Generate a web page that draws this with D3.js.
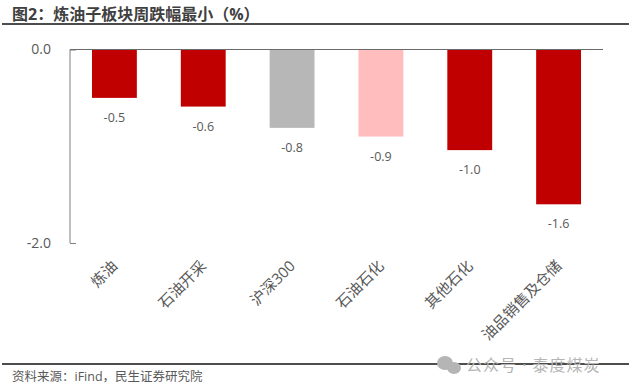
<!DOCTYPE html>
<html>
<head>
<meta charset="utf-8">
<script src="https://cdn.jsdelivr.net/npm/d3@7"></script>
<style>
  html, body { margin: 0; padding: 0; background: #fff; }
  text { font-family: "Open Sans", "Noto Sans CJK SC", sans-serif; }
</style>
</head>
<body>
<div id="chart"></div>
<script>
// Data
const categories = ["炼油", "石油开采", "沪深300", "石油石化", "其他石化", "油品销售及仓储"];
const values = [-0.5, -0.59, -0.81, -0.9, -1.04, -1.6];
const barColors = ["#c00000", "#c00000", "#b7b7b7", "#ffbdbd", "#c00000", "#c00000"];
const yTicks = [0, -2];

const width = 629;
const height = 390;
const margin = { top: 49.5, right: 26, bottom: 147, left: 70 };

// plain hyphen for negatives, like the source chart
const fmt = d3.formatLocale({ decimal: ".", thousands: ",", grouping: [3], currency: ["", ""], minus: "-" }).format(".1f");

const svg = d3.select("#chart")
  .append("svg")
  .attr("width", width)
  .attr("height", height)
  .style("display", "block");

// Title and rules
svg.append("text")
  .attr("x", 12)
  .attr("y", 20)
  .attr("font-size", 16)
  .attr("font-weight", 700)
  .attr("fill", "#404040")
  .text("图2：炼油子板块周跌幅最小（%）");

svg.append("line")
  .attr("x1", 2).attr("x2", 629)
  .attr("y1", 24).attr("y2", 24)
  .attr("stroke", "#4d4d4d")
  .attr("stroke-width", 2);

svg.append("line")
  .attr("x1", 2).attr("x2", 629)
  .attr("y1", 364).attr("y2", 364)
  .attr("stroke", "#4d4d4d")
  .attr("stroke-width", 2);

svg.append("text")
  .attr("x", 12)
  .attr("y", 381)
  .attr("font-size", 12.5)
  .attr("fill", "#595959")
  .text("资料来源：iFind，民生证券研究院");

// Scales
const x = d3.scaleBand()
  .domain(categories)
  .range([margin.left, width - margin.right])
  .paddingInner(0.495)
  .paddingOuter(0.2475);

const y = d3.scaleLinear()
  .domain([0, -2])
  .range([margin.top, height - margin.bottom]);

// Bars
svg.selectAll(".bar")
  .data(categories)
  .enter().append("rect")
  .attr("class", "bar")
  .attr("x", d => x(d))
  .attr("y", y(0))
  .attr("width", x.bandwidth())
  .attr("height", (d, i) => y(values[i]) - y(0))
  .attr("fill", (d, i) => barColors[i]);

// Axes
const yAxis = d3.axisLeft(y)
  .tickValues(yTicks)
  .tickSize(-6)
  .tickPadding(19)
  .tickFormat(fmt);

const yG = svg.append("g")
  .attr("transform", `translate(${margin.left},0)`)
  .call(yAxis);
yG.selectAll("path").remove();
yG.selectAll("line").attr("stroke", "#7f7f7f");
yG.selectAll("text")
  .attr("font-size", 14)
  .attr("fill", "#595959");

svg.append("line")
  .attr("x1", margin.left).attr("x2", margin.left)
  .attr("y1", y(0)).attr("y2", y(-2))
  .attr("stroke", "#7f7f7f");

svg.append("line")
  .attr("x1", margin.left).attr("x2", width - margin.right)
  .attr("y1", y(0)).attr("y2", y(0))
  .attr("stroke", "#6b6b6b")
  .attr("stroke-width", 1.2);

// Value labels
svg.selectAll(".value-label")
  .data(categories)
  .enter().append("text")
  .attr("class", "value-label")
  .attr("x", d => x(d) + x.bandwidth() / 2)
  .attr("y", (d, i) => y(values[i]) + 24)
  .attr("text-anchor", "middle")
  .attr("font-size", 12.5)
  .attr("fill", "#595959")
  .text((d, i) => fmt(values[i]));

// Category labels, rotated 45deg and ending under each bar
svg.selectAll(".cat-label")
  .data(categories)
  .enter().append("text")
  .attr("class", "cat-label")
  .attr("text-anchor", "end")
  .attr("font-size", 15)
  .attr("fill", "#595959")
  .attr("transform", d => `translate(${x(d) + x.bandwidth() / 2 + 4},${y(-2) + 24}) rotate(-45)`)
  .text(d => d);

// Watermark
const mark = svg.append("g").attr("fill", "#b5b5b5");
mark.append("ellipse").attr("cx", 445).attr("cy", 363).attr("rx", 8).attr("ry", 7);
mark.append("ellipse").attr("cx", 454).attr("cy", 368).attr("rx", 7).attr("ry", 6);
mark.append("text")
  .attr("x", 466)
  .attr("y", 371)
  .attr("font-size", 16)
  .attr("letter-spacing", 1)
  .text("公众号 · 泰度煤炭");
</script>
</body>
</html>
